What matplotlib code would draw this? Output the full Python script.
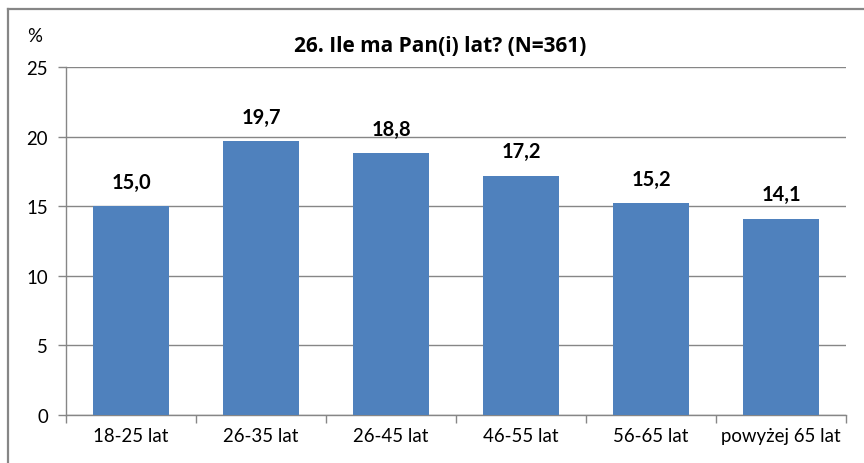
import matplotlib
matplotlib.use("Agg")
import matplotlib.pyplot as plt
from matplotlib.lines import Line2D

categories = ["18-25 lat", "26-35 lat", "26-45 lat", "46-55 lat", "56-65 lat", "powyżej 65 lat"]
values = [15.0, 19.7, 18.8, 17.2, 15.2, 14.1]
yticks = [0, 5, 10, 15, 20, 25]
title = "26. Ile ma Pan(i) lat? (N=361)"

plt.rcParams['font.family'] = ['Lato', 'DejaVu Sans']

W, H = 864, 464
fig = plt.figure(figsize=(W/100, H/100), dpi=100)
# outer chart frame (right/bottom sides fall outside the picture)
frame_kw = dict(transform=fig.transFigure, color="#868686", linewidth=1.6, zorder=10)
fig.add_artist(Line2D([8/W, 1.0], [1 - 10/H, 1 - 10/H], **frame_kw))
fig.add_artist(Line2D([8/W, 8/W], [0.0, 1 - 10/H], **frame_kw))

ax = fig.add_axes([66/W, 1 - 416/H, 780/W, 348/H])
x = list(range(len(categories)))
bars = ax.bar(x, values, width=0.59, color="#4F81BD", zorder=3)
ax.set_xlim(-0.5, len(categories) - 0.5)
ax.set_ylim(0, 25)
ax.set_yticks(yticks)
ax.set_yticklabels([str(t) for t in yticks], fontsize=13.4)
ax.yaxis.grid(True, color="#868686", linewidth=1.0, zorder=0)
ax.set_xticks(x)
ax.set_xticklabels(categories, fontsize=13.4)
ax.tick_params(axis='x', length=0, pad=9)
ax.tick_params(axis='y', length=6, color="#868686", pad=7, width=1.0)
# category boundary ticks
ax.set_xticks([i - 0.5 for i in range(len(categories) + 1)], minor=True)
ax.tick_params(axis='x', which='minor', length=6, color="#868686", width=1.0)
for s in ["top", "right"]:
    ax.spines[s].set_visible(False)
for s in ["left", "bottom"]:
    ax.spines[s].set_color("#868686")
    ax.spines[s].set_linewidth(1.0)

for xi, v in zip(x, values):
    ax.annotate(f"{v:.1f}".replace(".", ","), (xi, v), xytext=(0, 17.5), textcoords="offset points",
                ha="center", va="center", fontsize=14.5, fontweight="bold")

fig.text(440/W, 1 - 46/H, title, ha="center", va="center", fontsize=15, fontweight="bold",
         family=['Open Sans', 'DejaVu Sans'])
fig.text(35/W, 1 - 36/H, "%", ha="center", va="center", fontsize=13.4)

fig.savefig("out.png", dpi=100)
